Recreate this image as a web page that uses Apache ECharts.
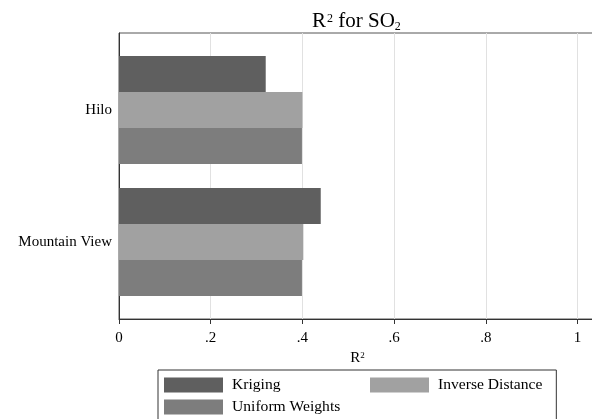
<!DOCTYPE html>
<html>
<head>
<meta charset="utf-8">
<script src="https://cdn.jsdelivr.net/npm/echarts@6/dist/echarts.min.js"></script>
<style>
  html, body { margin: 0; padding: 0; background: #fff; }
  #chart { width: 592px; height: 419px; }
</style>
</head>
<body>
<div id="chart"></div>
<script>
// R-squared by site and interpolation method
const sites = ['Hilo', 'Mountain View'];
const methods = ['Kriging', 'Inverse Distance', 'Uniform Weights'];
const kriging = [0.32, 0.44];
const inverseDistance = [0.40, 0.402];
const uniformWeights = [0.399, 0.399];
const tickLabels = ['0', '.2', '.4', '.6', '.8', '1'];

const seriesValues = [kriging, inverseDistance, uniformWeights];
const colors = ['#5f5f5f', '#a1a1a1', '#7d7d7d'];
const serif = 'Liberation Serif';

const X_MAX = 1.04;
const PX_PER_UNIT = 458.5;
const plotWidth = X_MAX * PX_PER_UNIT;

const chart = echarts.init(document.getElementById('chart'), null, { renderer: 'canvas' });

// shared legend look; the key is split into a left column (with the frame) and a right column
const legendBase = {
  orient: 'vertical',
  itemGap: 6,
  itemWidth: 59,
  itemHeight: 15,
  icon: 'rect',
  textStyle: { fontFamily: serif, fontSize: 15.6, color: '#000', padding: [0, 0, 0, 4] }
};

chart.setOption({
  backgroundColor: '#fff',
  animation: false,
  title: {
    text: 'R{sup|2} for SO{sub|2}',
    left: 307,
    top: 3,
    textStyle: {
      fontFamily: serif,
      fontSize: 21,
      fontWeight: 'normal',
      color: '#000',
      lineHeight: 26,
      rich: {
        sup: { fontFamily: serif, fontSize: 12, lineHeight: 12, verticalAlign: 'top', color: '#000', padding: [5, 0, 0, 1] },
        sub: { fontFamily: serif, fontSize: 12, lineHeight: 12, verticalAlign: 'top', color: '#000', padding: [13, 0, 0, 0] }
      }
    }
  },
  legend: [
    Object.assign({}, legendBase, {
      left: 158,
      top: 370,
      height: 60,
      padding: [7, 216, 20, 6],
      borderColor: '#333',
      borderWidth: 1,
      data: [methods[0], methods[2]]
    }),
    Object.assign({}, legendBase, {
      left: 364,
      top: 370,
      height: 30,
      padding: [7, 6, 7, 6],
      data: [methods[1]]
    })
  ],
  grid: [
    { left: 119, top: 33, width: plotWidth, bottom: 100, show: true, borderColor: '#555', borderWidth: 1, backgroundColor: 'transparent', outerBoundsMode: 'none', containLabel: false },
    { left: 119, top: 44, width: plotWidth, height: 264, outerBoundsMode: 'none', containLabel: false }
  ],
  xAxis: [
    {
      type: 'value', gridIndex: 0, min: 0, max: X_MAX, interval: 0.2,
      name: 'R{sup|2}',
      nameLocation: 'middle',
      nameGap: 20,
      nameTextStyle: {
        fontFamily: serif, fontSize: 15, color: '#000',
        rich: { sup: { fontFamily: serif, fontSize: 9, lineHeight: 9, verticalAlign: 'top', color: '#000' } }
      },
      axisLine: { show: true, onZero: false, lineStyle: { color: '#333', width: 1 } },
      axisTick: { show: true, length: 5, lineStyle: { color: '#333' } },
      axisLabel: {
        fontFamily: serif, fontSize: 15, color: '#000', margin: 12, showMaxLabel: false,
        formatter: v => tickLabels[Math.round(v / 0.2)] ?? ''
      },
      splitLine: { show: true, lineStyle: { color: '#e1e1e1', width: 1 } }
    },
    { type: 'value', gridIndex: 1, min: 0, max: X_MAX, show: false }
  ],
  yAxis: [
    {
      type: 'value', gridIndex: 0, min: 0, max: 1,
      axisLine: { show: true, lineStyle: { color: '#333', width: 1 } },
      axisTick: { show: false }, axisLabel: { show: false }, splitLine: { show: false }
    },
    {
      type: 'category', gridIndex: 1, data: sites, inverse: true,
      axisLine: { show: false }, axisTick: { show: false }, splitLine: { show: false },
      axisLabel: { fontFamily: serif, fontSize: 15, color: '#000', margin: 7 }
    }
  ],
  series: methods.map((m, i) => ({
    name: m,
    type: 'bar',
    xAxisIndex: 1,
    yAxisIndex: 1,
    data: seriesValues[i],
    barGap: '0%',
    barCategoryGap: '18.2%',
    itemStyle: { color: colors[i] }
  }))
});
</script>
</body>
</html>
